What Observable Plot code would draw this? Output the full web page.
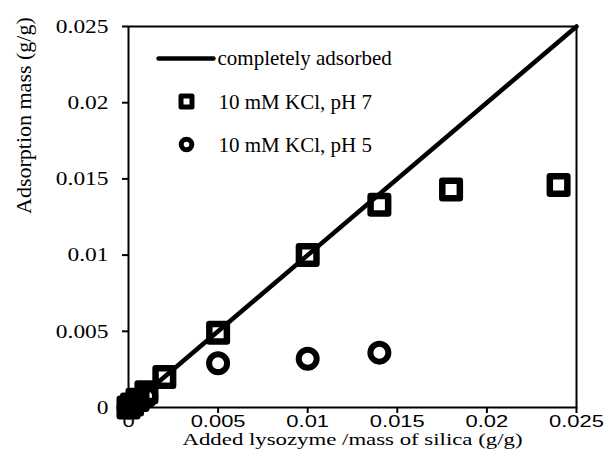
<!DOCTYPE html>
<html><head><meta charset="utf-8">
<script src="https://cdn.jsdelivr.net/npm/d3@7"></script>
<script src="https://cdn.jsdelivr.net/npm/@observablehq/plot@0.6"></script>
<style>body{margin:0;background:#fff}</style>
</head><body><div id="chart"></div>
<script>
// Data
const ph7X = [0, 0.0002, 0.0005, 0.001, 0.002, 0.005, 0.01, 0.014, 0.018, 0.024];
const ph7Y = [0, 0.0002, 0.0005, 0.001, 0.002, 0.0049, 0.01, 0.0133, 0.0143, 0.0146];
const ph5X = [0, 0.0002, 0.0005, 0.001, 0.005, 0.01, 0.014];
const ph5Y = [0, 0.0002, 0.0004, 0.0007, 0.0029, 0.0032, 0.0036];
const completeX = [0, 0.025];
const completeY = [0, 0.025];
const xTicks = [0, 0.005, 0.01, 0.015, 0.02, 0.025];
const yTicks = [0, 0.005, 0.01, 0.015, 0.02, 0.025];
const legendLabels = ["completely adsorbed", "10 mM KCl, pH 7", "10 mM KCl, pH 5"];
const xTitle = "Added lysozyme /mass of silica (g/g)";
const yTitle = "Adsorption mass (g/g)";

const ph7 = ph7X.map((x, i) => ({x, y: ph7Y[i]}));
const ph5 = ph5X.map((x, i) => ({x, y: ph5Y[i]}));
const complete = completeX.map((x, i) => ({x, y: completeY[i]}));
const fmt = d => d === 0 ? "0" : String(+d.toFixed(3));
const lineSymbol = {draw(ctx) { ctx.moveTo(-27.5, 0); ctx.lineTo(27.5, 0); }};
const serif = "Liberation Serif";

const svg = Plot.plot({
  width: 608, height: 475,
  marginLeft: 128, marginRight: 32, marginTop: 26, marginBottom: 68,
  style: {background: "white", color: "black", fontFamily: serif},
  x: {domain: [0, 0.025]},
  y: {domain: [0, 0.025]},
  marks: [
    Plot.frame({stroke: "black", strokeWidth: 2}),
    Plot.axisX({ticks: xTicks, tickFormat: () => "", tickSize: 6, strokeWidth: 2, label: null}),
    Plot.axisY({ticks: yTicks, tickFormat: () => "", tickSize: 6, strokeWidth: 2, label: null}),
    // tick labels
    Plot.text(xTicks, {x: d => d, frameAnchor: "bottom", dy: 14.5, text: fmt, lineAnchor: "middle",
      fontFamily: "Liberation Sans", fontSize: 17, className: "xtl"}),
    Plot.text(yTicks, {y: d => d, frameAnchor: "left", dx: -20, text: fmt, textAnchor: "end", lineAnchor: "middle",
      fontFamily: serif, fontSize: 19.5, className: "ytl"}),
    // axis titles
    Plot.text([xTitle], {frameAnchor: "bottom", dy: 32, lineAnchor: "middle", text: d => d,
      fontFamily: serif, fontSize: 17, className: "xtitle"}),
    Plot.text([yTitle], {frameAnchor: "left", dx: -105, dy: -3, rotate: -90, lineAnchor: "middle", text: d => d,
      fontFamily: serif, fontSize: 22}),
    Plot.line(complete, {x: "x", y: "y", stroke: "black", strokeWidth: 4.5}),
    Plot.dot(ph7, {x: "x", y: "y", symbol: "square", r: 9.9, fill: "none", stroke: "black",
      strokeWidth: 6.5, strokeLinejoin: "round"}),
    Plot.dot(ph5, {x: "x", y: "y", symbol: "circle", r: 9, fill: "none", stroke: "black", strokeWidth: 6}),
    // legend
    Plot.dot([legendLabels[0]], {frameAnchor: "top-left", dx: 57.5, dy: 32, symbol: lineSymbol, r: 5,
      fill: "none", stroke: "black", strokeWidth: 4.5, strokeLinecap: "round"}),
    Plot.dot([legendLabels[1]], {frameAnchor: "top-left", dx: 58, dy: 75, symbol: "square", r: 6.2,
      fill: "none", stroke: "black", strokeWidth: 5, strokeLinejoin: "round"}),
    Plot.dot([legendLabels[2]], {frameAnchor: "top-left", dx: 58, dy: 118, symbol: "circle", r: 5.3,
      fill: "none", stroke: "black", strokeWidth: 5}),
    Plot.text([legendLabels[0]], {frameAnchor: "top-left", dx: 89, dy: 32, text: d => d, textAnchor: "start",
      lineAnchor: "middle", fontFamily: serif, fontSize: 21}),
    Plot.text([legendLabels[1]], {frameAnchor: "top-left", dx: 90, dy: 75.5, text: d => d, textAnchor: "start",
      lineAnchor: "middle", fontFamily: serif, fontSize: 21}),
    Plot.text([legendLabels[2]], {frameAnchor: "top-left", dx: 90, dy: 119, text: d => d, textAnchor: "start",
      lineAnchor: "middle", fontFamily: serif, fontSize: 21})
  ]
});
document.getElementById("chart").append(svg);

// horizontal stretch of some labels, as in the reference
function stretch(texts, factor, fixed) {
  texts.forEach(t => {
    const L = t.getComputedTextLength();
    t.setAttribute("textLength", fixed || L * factor);
    t.setAttribute("lengthAdjust", "spacingAndGlyphs");
  });
}
const all = Array.from(svg.querySelectorAll("text"));
const xLabs = new Set(xTicks.map(fmt));
const xtl = all.filter(t => t.closest(".xtl"));
const ytl = all.filter(t => t.closest(".ytl"));
const xt = all.filter(t => t.textContent === xTitle);
stretch(xtl, 1.29);
stretch(ytl, 1.2);
stretch(xt, 1, 340);
</script></body></html>
